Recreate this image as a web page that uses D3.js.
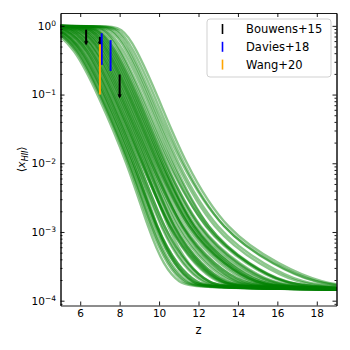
<!DOCTYPE html>
<html>
<head>
<meta charset="utf-8">
<script src="https://cdn.jsdelivr.net/npm/d3@7"></script>
<style>
	body { margin: 0; background: #fff; }
	svg { display: block; font-family: "DejaVu Sans", sans-serif; }
</style>
</head>
<body>
<svg id="chart" width="350" height="350"></svg>
<script>
// ionised fraction levels; each model curve is given by the redshift where it crosses them
var xLevels = [0.95, 0.5, 0.1, 1e-2, 1e-3, 3.2e-4, 1.8e-4, 1.5e-4];
var zAt095 = [4.4,4.55,4.6,4.8,4.85,4.9,5.1,5.2,5.25,5.45,5.5,5.65,5.7,5.9,5.95,6.1,6.15,6.3,6.45,6.5,6.6,6.75,6.85,6.9,7.1,7.2,7.3,7.5,7.6,7.8,7.9,8.1,
	4.57,4.71,4.86,5.01,5.16,5.31,5.45,5.6,5.75,5.9,6.05,6.19,6.34,6.49,6.64,6.79];
var zAt05  = [5.7,5.8,5.9,6.0,6.05,6.15,6.3,6.35,6.45,6.55,6.6,6.75,6.8,6.95,7.0,7.1,7.2,7.3,7.35,7.45,7.55,7.65,7.75,7.85,7.95,8.0,8.15,8.3,8.4,8.5,8.65,8.8,
	5.84,5.96,6.09,6.21,6.34,6.46,6.58,6.71,6.83,6.96,7.08,7.2,7.33,7.45,7.58,7.7];
var zAt01  = [6.9,7.0,7.05,7.2,7.25,7.35,7.45,7.5,7.65,7.7,7.8,7.9,8.0,8.05,8.15,8.25,8.35,8.45,8.5,8.6,8.7,8.8,8.9,8.95,9.05,9.15,9.3,9.4,9.5,9.6,9.75,9.9,
	7.04,7.16,7.28,7.4,7.52,7.64,7.76,7.88,8.0,8.12,8.24,8.36,8.48,8.6,8.72,8.84];
var zAt1e2 = [8.4,8.5,8.55,8.65,8.75,8.85,8.9,9.0,9.1,9.2,9.25,9.35,9.45,9.55,9.6,9.7,9.8,9.9,9.95,10.05,10.15,10.2,10.3,10.4,10.5,10.6,10.7,10.8,10.9,11.05,11.15,11.3,
	8.53,8.65,8.76,8.88,8.99,9.11,9.23,9.34,9.46,9.57,9.69,9.81,9.92,10.04,10.15,10.27];
var zAt1e3 = [9.5,9.6,9.75,9.85,9.95,9.95,10.2,10.3,10.6,10.55,10.65,10.8,10.75,11.0,11.15,11.25,11.5,11.5,11.6,11.7,11.7,11.95,12.05,12.35,12.3,12.45,12.45,12.75,12.9,13.2,13.2,13.4,
	9.68,9.93,9.89,10.14,10.3,10.56,10.51,10.77,10.92,11.18,11.14,11.39,11.55,11.8,11.76,12.02];
var zAt32e5 = [10.25,10.45,10.6,10.8,10.95,10.85,11.3,11.5,12.0,11.85,12.05,12.2,12.1,12.55,12.75,12.9,13.4,13.3,13.45,13.65,13.5,14.0,14.2,14.65,14.55,14.7,14.65,15.2,15.45,15.95,15.9,16.2,
	10.52,10.96,10.79,11.23,11.47,11.91,11.51,12.18,12.42,12.86,12.7,13.14,13.37,13.81,13.65,14.09];
var zAt18e5 = [11.0,11.2,11.45,11.65,11.85,11.7,12.3,12.5,13.15,12.95,13.15,13.4,13.2,13.8,14.0,14.25,14.85,14.65,14.9,15.1,14.9,15.55,15.75,16.35,16.2,16.4,16.3,17.0,17.25,17.95,17.85,18.2,
	11.32,11.91,11.65,12.19,12.48,13.06,12.51,13.34,13.63,14.22,13.95,14.49,14.78,15.37,15.11,15.64];
var zAt15e5 = [11.9,12.15,12.4,12.65,12.95,12.7,13.45,13.7,14.45,14.2,14.5,14.75,14.5,15.25,15.5,15.75,16.55,16.3,16.55,16.8,16.55,17.3,17.6,18.35,18.1,18.35,18.2,19.05,19.4,20.25,20.1,20.5,
	12.29,12.98,12.68,13.32,13.66,14.36,13.71,14.7,15.04,15.73,15.08,16.07,16.42,17.11,16.8,17.45];
var zCross = [zAt095, zAt05, zAt01, zAt1e2, zAt1e3, zAt32e5, zAt18e5, zAt15e5];
var xTop = 1.0, xFloor = 1.4e-4;
var zBefore = 2, zAfter = 26, plateauLead = 0.8;

// observational constraints
var bouwensZ = [6.3, 7.0, 8.0];
var bouwensLo = [0.55, 0.54, 0.093];
var bouwensHi = [0.88, 0.69, 0.196];
var daviesZ = [7.09, 7.54];
var daviesLo = [0.27, 0.22];
var daviesHi = [0.78, 0.62];
var wangZ = [7.0];
var wangLo = [0.10];
var wangHi = [0.54];

var xTicks = [6, 8, 10, 12, 14, 16, 18];
var yExps = [0, -1, -2, -3, -4];
var legendLabels = ["Bouwens+15", "Davies+18", "Wang+20"];
var legendColors = ["black", "blue", "orange"];

var svg = d3.select("#chart");
var L = 60.5, R = 336.5, T = 13, B = 305.5;

var x = d3.scaleLinear().domain([5, 19]).range([L, R]);
var y = d3.scaleLog().domain([Math.pow(10, -4.07), Math.pow(10, 0.187)]).range([B, T]);

svg.append("clipPath").attr("id", "plot")
	.append("rect").attr("x", L).attr("y", T).attr("width", R - L).attr("height", B - T);

// model curves
var line = d3.line().x(function(d){ return x(d[0]); }).y(function(d){ return y(d[1]); })
	.curve(d3.curveBasis);
var curves = zAt095.map(function(_, i){
	// flat at 1 until just before the curve starts to drop
	var pts = [[zBefore, xTop], [zAt095[i] - plateauLead, xTop]];
	xLevels.forEach(function(lv, k){ pts.push([zCross[k][i], lv]); });
	pts.push([zAfter, xFloor]);
	return pts;
});
svg.append("g").attr("clip-path", "url(#plot)")
	.selectAll("path").data(curves).enter().append("path")
	.attr("d", line)
	.attr("fill", "none")
	.attr("stroke", "green")
	.attr("stroke-width", 2.4)
	.attr("stroke-opacity", 0.45);

// error bars
function bars(zs, lo, hi, color, caret) {
	var g = svg.append("g");
	g.selectAll("line").data(zs).enter().append("line")
		.attr("x1", function(d){ return x(d); }).attr("x2", function(d){ return x(d); })
		.attr("y1", function(d, i){ return y(lo[i]); })
		.attr("y2", function(d, i){ return y(hi[i]); })
		.attr("stroke", color).attr("stroke-width", 2);
	if (caret) {
		g.selectAll("path").data(zs).enter().append("path")
			.attr("d", function(d, i){
				var cx = x(d), cy = y(lo[i]);
				return "M" + (cx - 1.5) + "," + (cy - 2.5) + "L" + cx + "," + (cy + 0.5) + "L" + (cx + 1.5) + "," + (cy - 2.5);
			})
			.attr("fill", "none").attr("stroke", color).attr("stroke-width", 1.1);
	}
}
bars(bouwensZ, bouwensLo, bouwensHi, "black", true);
bars(daviesZ, daviesLo, daviesHi, "blue", false);
bars(wangZ, wangLo, wangHi, "orange", false);

// axes
var minor = [];
for (var e = -5; e <= 0; e++) for (var m = 2; m <= 9; m++) {
	var v = m * Math.pow(10, e);
	if (v > y.domain()[0] && v < y.domain()[1]) minor.push(v);
}
var yMajor = yExps.map(function(p){ return Math.pow(10, p); });

function styleAxis(g) {
	g.selectAll("path.domain").attr("stroke", "black").attr("stroke-width", 0.9);
	g.selectAll(".tick line").attr("stroke", "black").attr("stroke-width", 0.9);
	g.selectAll("text").attr("fill", "black").attr("font-size", "10.5px")
		.attr("font-family", "DejaVu Sans, sans-serif");
}

svg.append("g").attr("transform", "translate(0," + B + ")")
	.call(d3.axisBottom(x).tickValues(xTicks).tickSizeInner(-4).tickSizeOuter(0).tickPadding(4.5))
	.call(styleAxis);
svg.append("g").attr("transform", "translate(0," + T + ")")
	.call(d3.axisTop(x).tickValues(xTicks).tickSizeInner(-4).tickSizeOuter(0).tickFormat(""))
	.call(styleAxis);

var yLeft = svg.append("g").attr("transform", "translate(" + L + ",0)")
	.call(d3.axisLeft(y).tickValues(yMajor).tickSizeInner(-4).tickSizeOuter(0).tickPadding(4.5))
	.call(styleAxis);
yLeft.selectAll(".tick text").each(function(d, i){
	var t = d3.select(this).text(null);
	t.append("tspan").text("10");
	t.append("tspan").attr("dy", "-0.45em").attr("font-size", "7.5px")
		.text(yExps[i] < 0 ? "\u2212" + (-yExps[i]) : String(yExps[i]));
});
svg.append("g").attr("transform", "translate(" + L + ",0)")
	.call(d3.axisLeft(y).tickValues(minor).tickSizeInner(-2).tickSizeOuter(0).tickFormat(""))
	.call(styleAxis);
svg.append("g").attr("transform", "translate(" + R + ",0)")
	.call(d3.axisRight(y).tickValues(yMajor).tickSizeInner(-4).tickSizeOuter(0).tickFormat(""))
	.call(styleAxis);
svg.append("g").attr("transform", "translate(" + R + ",0)")
	.call(d3.axisRight(y).tickValues(minor).tickSizeInner(-2).tickSizeOuter(0).tickFormat(""))
	.call(styleAxis);

// axis labels
svg.append("text").attr("x", (L + R) / 2).attr("y", 333.5)
	.attr("text-anchor", "middle").attr("font-size", "11.5px").text("z");
var yl = svg.append("text").attr("transform", "translate(25," + ((T + B) / 2) + ") rotate(-90)")
	.attr("text-anchor", "middle").attr("font-size", "11px");
yl.append("tspan").text("\u27E8");
yl.append("tspan").attr("font-style", "italic").text("x");
yl.append("tspan").attr("font-style", "italic").attr("font-size", "8px").attr("dy", "2.5").text("HII");
yl.append("tspan").attr("dy", "-2.5").text("\u27E9");

// legend
var lg = svg.append("g");
lg.append("rect").attr("x", 207).attr("y", 19).attr("width", 124).attr("height", 58).attr("rx", 3)
	.attr("fill", "white").attr("fill-opacity", 0.8).attr("stroke", "#cccccc").attr("stroke-width", 0.9);
legendLabels.forEach(function(lab, i){
	var cy = 29 + i * 17.8;
	lg.append("line").attr("x1", 222.5).attr("x2", 222.5).attr("y1", cy - 5).attr("y2", cy + 5)
		.attr("stroke", legendColors[i]).attr("stroke-width", 1.6);
	lg.append("text").attr("x", 246).attr("y", cy + 4.2).attr("font-size", "11.5px").text(lab);
});
</script>
</body>
</html>
